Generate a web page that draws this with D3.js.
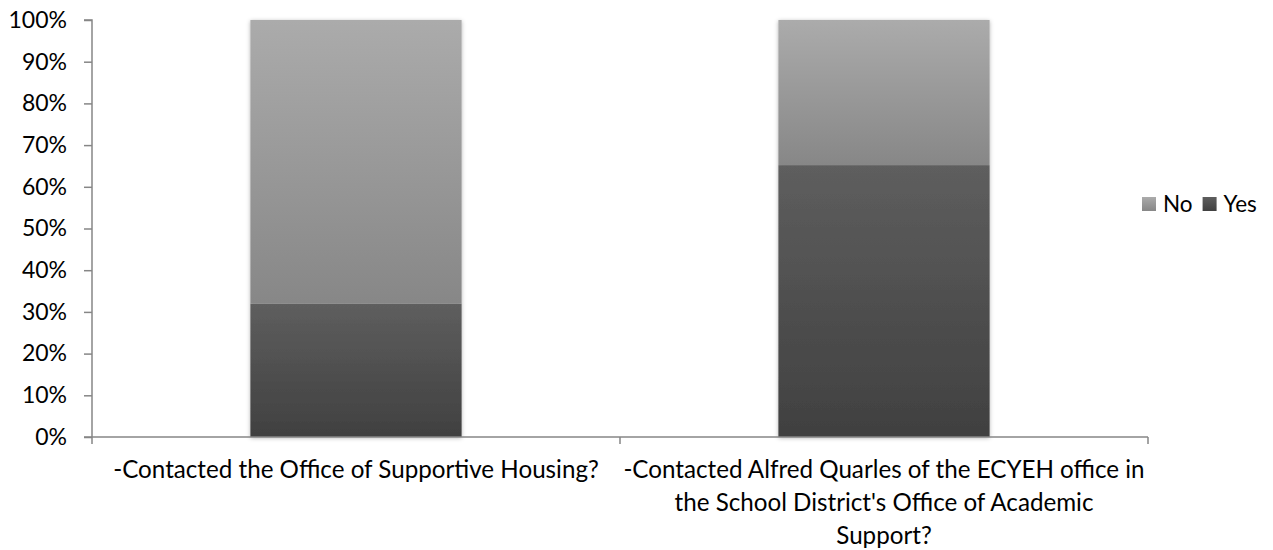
<!DOCTYPE html>
<html><head><meta charset="utf-8">
<script src="https://cdn.jsdelivr.net/npm/d3@7"></script>
<style>
html,body{margin:0;padding:0;background:#fff;}
svg{display:block;font-family:Lato,"Open Sans",sans-serif;}
</style></head>
<body>
<svg id="chart" width="1273" height="550"></svg>
<script>
const categories = [
  "-Contacted the Office of Supportive Housing?",
  "-Contacted Alfred Quarles of the ECYEH office in the School District's Office of Academic Support?"
];
const categoryLines = [
  ["-Contacted the Office of Supportive Housing?"],
  ["-Contacted Alfred Quarles of the ECYEH office in", "the School District's Office of Academic", "Support?"]
];
const seriesNames = ["Yes", "No"];
const yesValues = [32, 65.2];
const noValues = [68, 34.8];
const yTickValues = [0,10,20,30,40,50,60,70,80,90,100];
const legendOrder = ["No", "Yes"];

const svg = d3.select("#chart");
const mLeft = 92, mRight = 1148, mTop = 20, mBottom = 437;
const axisColor = "#868686";
const tickFont = 23;
const catFont = 24.2;
const legendFont = 22.5;

const defs = svg.append("defs");
const grads = {
  No: ["#ababab", "#878787"],
  Yes: ["#5e5e5e", "#404040"]
};
Object.entries(grads).forEach(([k, c]) => {
  const g = defs.append("linearGradient").attr("id", "g" + k)
    .attr("x1", 0).attr("y1", 0).attr("x2", 0).attr("y2", 1);
  g.append("stop").attr("offset", "0%").attr("stop-color", c[0]);
  g.append("stop").attr("offset", "100%").attr("stop-color", c[1]);
});
const f = defs.append("filter").attr("id", "shadow")
  .attr("x", "-10%").attr("y", "-10%").attr("width", "120%").attr("height", "120%");
f.append("feDropShadow").attr("dx", 0).attr("dy", 1).attr("stdDeviation", 2)
  .attr("flood-color", "#000").attr("flood-opacity", 0.3);

const x = d3.scaleBand().domain(categories).range([mLeft, mRight])
  .paddingInner(0.6).paddingOuter(0.3);
const y = d3.scaleLinear().domain([0, 100]).range([mBottom, mTop]);

const data = categories.map((c, i) => ({cat: c, Yes: yesValues[i], No: noValues[i]}));
const stack = d3.stack().keys(seriesNames)(data);

const barsG = svg.append("g").attr("filter", "url(#shadow)");
stack.forEach(layer => {
  barsG.append("g").selectAll("rect").data(layer).join("rect")
    .attr("x", d => x(d.data.cat))
    .attr("width", x.bandwidth())
    .attr("y", d => y(d[1]))
    .attr("height", d => y(d[0]) - y(d[1]))
    .attr("fill", "url(#g" + layer.key + ")");
});

// Y axis
const yAxis = d3.axisLeft(y).tickValues(yTickValues).tickFormat(d => d + "%").tickSize(8).tickPadding(17);
const yG = svg.append("g").attr("transform", `translate(${mLeft},0)`).call(yAxis);
yG.select(".domain").attr("stroke", axisColor).attr("stroke-width", 1.5).attr("d", `M-8,${mTop}H0V${mBottom}`);
yG.selectAll(".tick line").attr("stroke", axisColor).attr("stroke-width", 1.5);
yG.selectAll(".tick text").attr("font-size", tickFont).attr("fill", "#000").attr("font-family", "Lato");

// X axis
const xG = svg.append("g");
xG.append("line").attr("x1", mLeft - 8).attr("x2", mRight).attr("y1", mBottom).attr("y2", mBottom)
  .attr("stroke", axisColor).attr("stroke-width", 1.5);
const boundaries = [mLeft, (x(categories[0]) + x.bandwidth() + x(categories[1])) / 2, mRight];
xG.selectAll("line.tk").data(boundaries).join("line").attr("class", "tk")
  .attr("x1", d => d).attr("x2", d => d).attr("y1", mBottom).attr("y2", mBottom + 7)
  .attr("stroke", axisColor).attr("stroke-width", 1.5);

categories.forEach((c, i) => {
  const cx = x(c) + x.bandwidth() / 2;
  const t = xG.append("text").attr("text-anchor", "middle").attr("font-size", catFont).attr("fill", "#000");
  categoryLines[i].forEach((ln, j) => {
    t.append("tspan").attr("x", cx).attr("y", 478 + j * 33).text(ln);
  });
});

// Legend
const lg = svg.append("g");
let lx = 1142;
legendOrder.forEach(k => {
  lg.append("rect").attr("x", lx).attr("y", 197).attr("width", 14).attr("height", 14)
    .attr("fill", "url(#g" + k + ")");
  const tx = lg.append("text").attr("x", lx + 21).attr("y", 212).attr("font-size", legendFont).attr("fill", "#000").text(k);
  lx += 21 + tx.node().getComputedTextLength() + 10;
});
</script>
</body></html>
